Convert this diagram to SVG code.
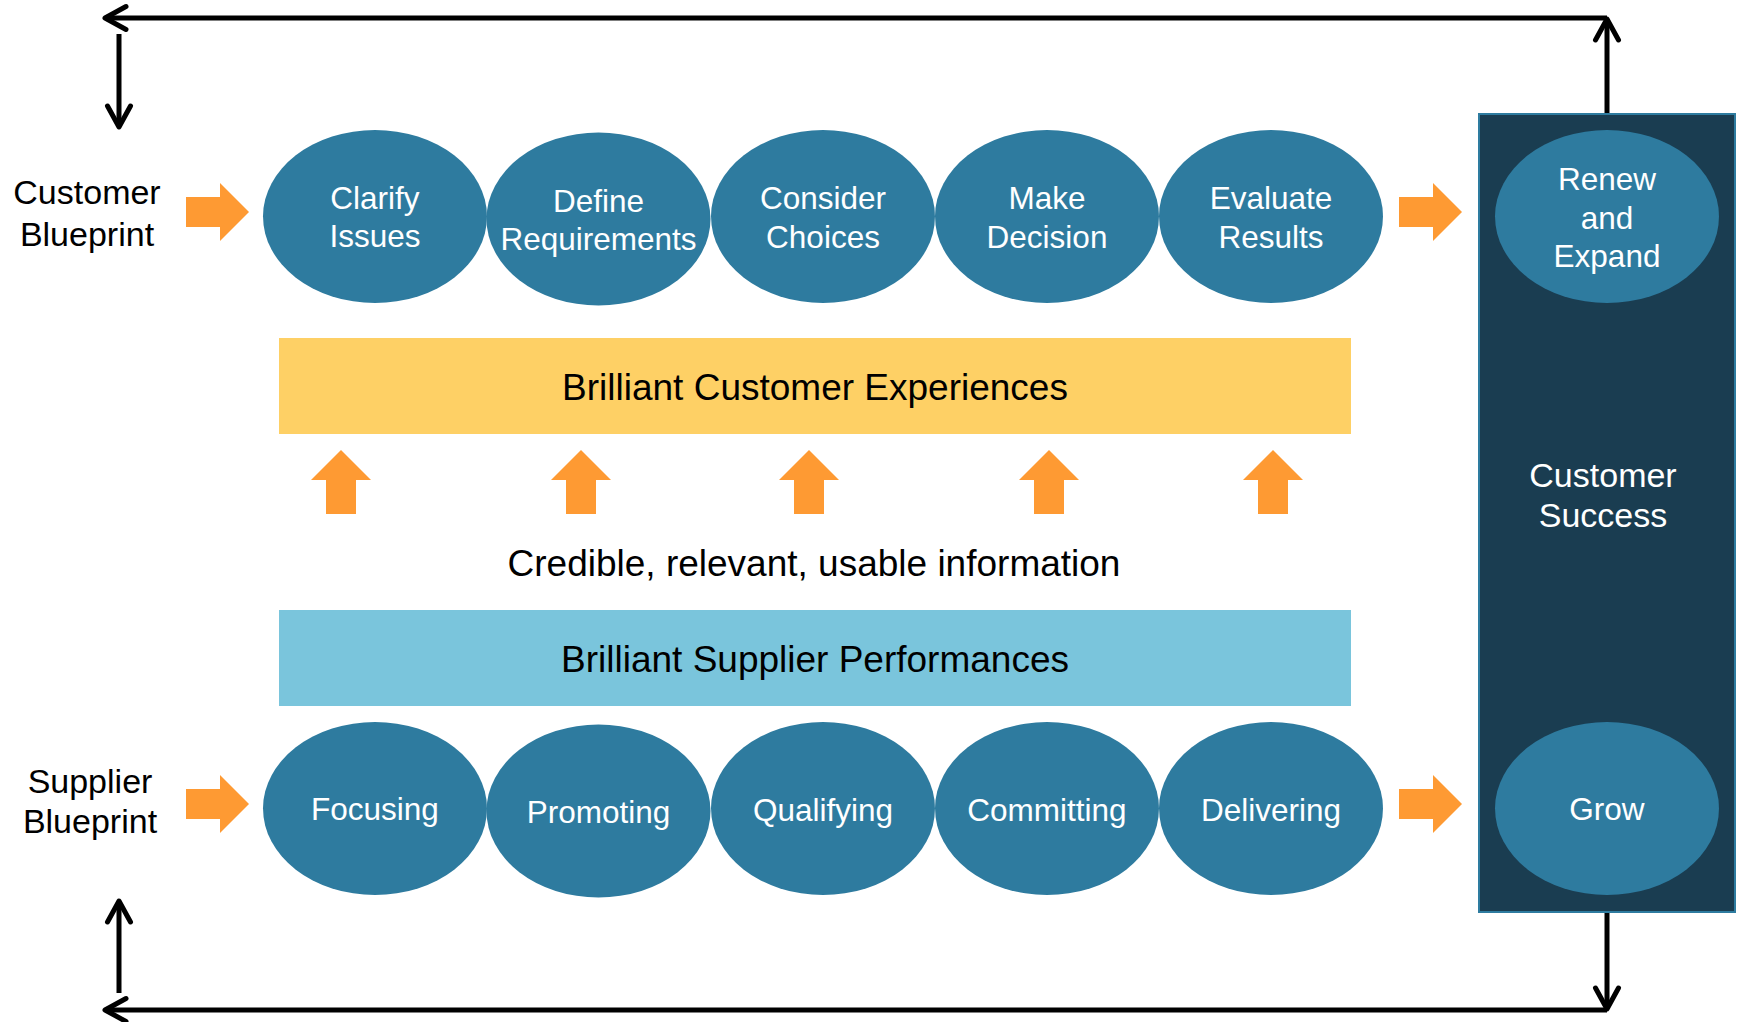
<svg xmlns="http://www.w3.org/2000/svg" width="1739" height="1022" viewBox="0 0 1739 1022">
  <style>
    text { font-family: "Liberation Sans", Arial, sans-serif; text-anchor: middle; }
    .step { fill: #2e7b9f; }
    .step-label { fill: #ffffff; font-size: 31.5px; }
    .side-label { fill: #000000; font-size: 34px; }
    .band-label { fill: #000000; font-size: 37px; }
    .flow { fill: #fe9a33; }
    .loop { stroke: #000000; stroke-width: 5; fill: none; }
  </style>
  <defs>
    <marker id="open-arrow" markerUnits="userSpaceOnUse" markerWidth="32" markerHeight="32" viewBox="-27 -16 32 32" refX="0" refY="0" orient="auto">
      <path d="M -21,-11.5 L 0,0 L -21,11.5" fill="none" stroke="#000000" stroke-width="5" stroke-linecap="round" stroke-linejoin="round"/>
    </marker>
    <!-- block arrow pointing right, origin at the tail centre -->
    <path id="arrow-right" d="M 0,-15 H 34 V -29 L 63,0 L 34,29 V 15 H 0 Z"/>
    <!-- block arrow pointing up, origin at the tip -->
    <path id="arrow-up" d="M 0,0 L 30,30 H 15 V 64 H -15 V 30 H -30 Z"/>
  </defs>

  <rect width="1739" height="1022" fill="#ffffff"/>

  <!-- Customer Success column -->
  <g id="customer-success">
    <rect x="1479" y="114" width="256" height="798" fill="#1a3d51" stroke="#2e7ca0" stroke-width="2"/>
    <text class="step-label" x="1603" y="487" style="font-size:34px">Customer</text>
    <text class="step-label" x="1603" y="527" style="font-size:34px">Success</text>
  </g>

  <!-- Bands -->
  <g id="customer-experiences">
    <rect x="279" y="338" width="1072" height="96" fill="#fed065"/>
    <text class="band-label" x="815" y="400">Brilliant Customer Experiences</text>
  </g>
  <g id="supplier-performances">
    <rect x="279" y="610" width="1072" height="96" fill="#7ac5dc"/>
    <text class="band-label" x="815" y="672">Brilliant Supplier Performances</text>
  </g>
  <g id="information">
    <text class="band-label" x="814" y="576">Credible, relevant, usable information</text>
  </g>

  <!-- Side labels -->
  <g id="customer-blueprint">
    <text class="side-label" x="87" y="204">Customer</text>
    <text class="side-label" x="87" y="246">Blueprint</text>
  </g>
  <g id="supplier-blueprint">
    <text class="side-label" x="90" y="793">Supplier</text>
    <text class="side-label" x="90" y="833">Blueprint</text>
  </g>

  <!-- Customer journey -->
  <g id="clarify-issues">
    <ellipse class="step" cx="375" cy="216.5" rx="112" ry="86.5"/>
    <text class="step-label" x="375" y="209">Clarify</text>
    <text class="step-label" x="375" y="247">Issues</text>
  </g>
  <g id="define-requirements">
    <ellipse class="step" cx="598.5" cy="219" rx="112" ry="86.5"/>
    <text class="step-label" x="598.5" y="211.5">Define</text>
    <text class="step-label" x="598.5" y="249.5">Requirements</text>
  </g>
  <g id="consider-choices">
    <ellipse class="step" cx="823" cy="216.5" rx="112" ry="86.5"/>
    <text class="step-label" x="823" y="208.5">Consider</text>
    <text class="step-label" x="823" y="247.5">Choices</text>
  </g>
  <g id="make-decision">
    <ellipse class="step" cx="1047" cy="216.5" rx="112" ry="86.5"/>
    <text class="step-label" x="1047" y="208.5">Make</text>
    <text class="step-label" x="1047" y="247.5">Decision</text>
  </g>
  <g id="evaluate-results">
    <ellipse class="step" cx="1271" cy="216.5" rx="112" ry="86.5"/>
    <text class="step-label" x="1271" y="208.5">Evaluate</text>
    <text class="step-label" x="1271" y="247.5">Results</text>
  </g>
  <g id="renew-and-expand">
    <ellipse class="step" cx="1607" cy="216.5" rx="112" ry="86.5"/>
    <text class="step-label" x="1607" y="190">Renew</text>
    <text class="step-label" x="1607" y="229">and</text>
    <text class="step-label" x="1607" y="267">Expand</text>
  </g>

  <!-- Supplier journey -->
  <g id="focusing">
    <ellipse class="step" cx="375" cy="808.5" rx="112" ry="86.5"/>
    <text class="step-label" x="375" y="820">Focusing</text>
  </g>
  <g id="promoting">
    <ellipse class="step" cx="598.5" cy="811" rx="112" ry="86.5"/>
    <text class="step-label" x="598.5" y="823">Promoting</text>
  </g>
  <g id="qualifying">
    <ellipse class="step" cx="823" cy="808.5" rx="112" ry="86.5"/>
    <text class="step-label" x="823" y="820.5">Qualifying</text>
  </g>
  <g id="committing">
    <ellipse class="step" cx="1047" cy="808.5" rx="112" ry="86.5"/>
    <text class="step-label" x="1047" y="820.5">Committing</text>
  </g>
  <g id="delivering">
    <ellipse class="step" cx="1271" cy="808.5" rx="112" ry="86.5"/>
    <text class="step-label" x="1271" y="820.5">Delivering</text>
  </g>
  <g id="grow">
    <ellipse class="step" cx="1607" cy="808.5" rx="112" ry="86.5"/>
    <text class="step-label" x="1607" y="820">Grow</text>
  </g>

  <!-- Connectors -->
  <g id="connectors">
    <!-- flow arrows into and out of each journey -->
    <use href="#arrow-right" class="flow" x="186" y="212"/>
    <use href="#arrow-right" class="flow" x="1399" y="212"/>
    <use href="#arrow-right" class="flow" x="186" y="804"/>
    <use href="#arrow-right" class="flow" x="1399" y="804"/>

    <!-- information feeding the customer experience -->
    <use href="#arrow-up" class="flow" x="341" y="450"/>
    <use href="#arrow-up" class="flow" x="581" y="450"/>
    <use href="#arrow-up" class="flow" x="809" y="450"/>
    <use href="#arrow-up" class="flow" x="1049" y="450"/>
    <use href="#arrow-up" class="flow" x="1273" y="450"/>

    <!-- renewal loop back to the customer blueprint -->
    <line class="loop" x1="1607" y1="113" x2="1607" y2="19" marker-end="url(#open-arrow)"/>
    <line class="loop" x1="1607" y1="18" x2="105" y2="18" marker-end="url(#open-arrow)"/>
    <line class="loop" x1="119" y1="34" x2="119" y2="127" marker-end="url(#open-arrow)"/>

    <!-- growth loop back to the supplier blueprint -->
    <line class="loop" x1="1607" y1="913" x2="1607" y2="1009" marker-end="url(#open-arrow)"/>
    <line class="loop" x1="1607" y1="1010" x2="105" y2="1010" marker-end="url(#open-arrow)"/>
    <line class="loop" x1="119" y1="993" x2="119" y2="901" marker-end="url(#open-arrow)"/>
  </g>
</svg>
